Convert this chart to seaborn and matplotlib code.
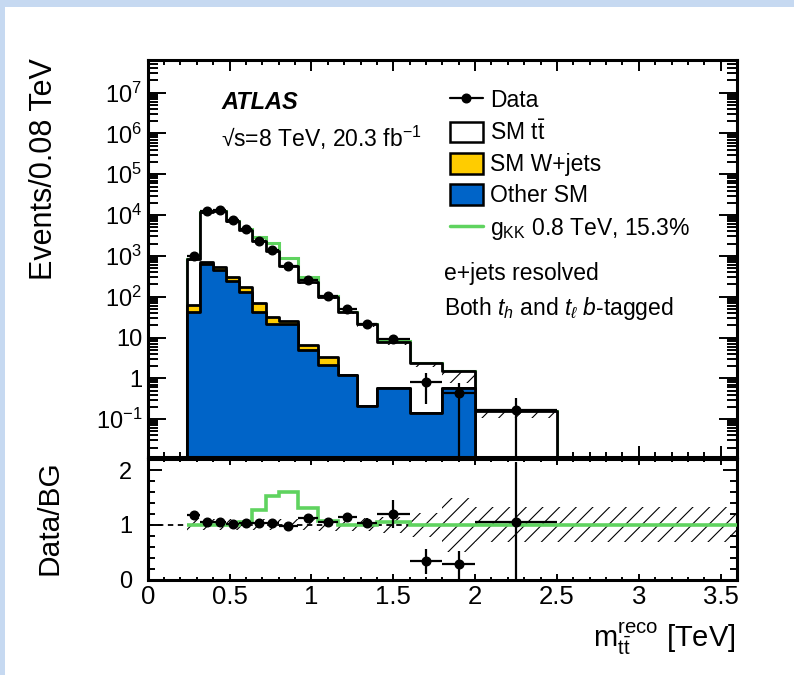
import numpy as np
import pandas as pd
import matplotlib
matplotlib.use("Agg")
import matplotlib.pyplot as plt
import seaborn as sns
from matplotlib.lines import Line2D
from matplotlib.patches import Patch, Rectangle
from matplotlib.ticker import MultipleLocator, LogLocator, FuncFormatter, NullFormatter, FixedLocator

sns.set_theme(style="ticks")
plt.rcParams["font.family"] = ["Liberation Sans", "DejaVu Sans"]
plt.rcParams.update({
    "mathtext.fontset": "custom",
    "mathtext.rm": "Liberation Sans",
    "mathtext.it": "Liberation Sans:italic",
    "mathtext.bf": "Liberation Sans:bold",
    "hatch.linewidth": 0.8,
    "axes.edgecolor": "black",
    "xtick.color": "black",
    "ytick.color": "black",
    "text.color": "black",
})

# m_tt bin edges [TeV]; contents are events per 0.08 TeV
bin_edges = [0.24, 0.32, 0.40, 0.48, 0.56, 0.64, 0.72, 0.80, 0.92, 1.04,
             1.16, 1.28, 1.40, 1.60, 1.80, 2.00, 2.50]
ttbar = [787, 11280, 11955, 6990, 4124, 2229, 1299, 539, 227.5, 96.6,
         41.8, 20.8, 7.23, 2.26, 0.97, 0.155]
wjets = [20, 90, 95, 63, 43, 28, 9, 5, 1.6, 1.3, 0, 0, 0, 0, 0, 0]
other_sm = [43, 630, 450, 247, 133, 43, 22, 21, 4.9, 2.1, 1.2, 0.21, 0.57,
            0.144, 0.57, 0.0]
gkk_signal = [0, 0, 0, 0, 200, 644, 692, 345, 73, 7, 0, 0, 0.47, 0, 0, 0]
data = [1000, 12700, 13250, 7370, 4470, 2370, 1380, 554, 264, 106, 49.5,
        21.8, 9.4, 0.82, 0.43, 0.164]
data_err_up = [15, 60, 60, 45, 40, 30, 25, 15, 9, 5, 2.3, 1.9, 2.0, 0.52, 0.36, 0.17]
data_err_dn = [15, 60, 60, 45, 40, 30, 25, 15, 9, 5, 2.3, 1.9, 2.0, 0.585, 0.43, 0.164]
bkg_rel_unc = [0.12, 0.10, 0.10, 0.10, 0.10, 0.10, 0.10, 0.10, 0.10, 0.11,
               0.12, 0.12, 0.15, 0.22, 0.50, 0.32]
# ratio panel continues past the last populated bin up to the axis end
ratio_tail_edge = 3.6
ratio_tail_unc = 0.32

edges = np.array(bin_edges)
centers = 0.5 * (edges[:-1] + edges[1:])
halfw = 0.5 * np.diff(edges)
tt = np.array(ttbar)
wj = np.array(wjets)
oth = np.array(other_sm)
sig = np.array(gkk_signal)
dat = np.array(data)
eup = np.array(data_err_up)
edn = np.array(data_err_dn)
rel = np.array(bkg_rel_unc)

bkg = tt + wj + oth
df = pd.DataFrame({"mtt": centers, "total": bkg, "w_other": wj + oth, "other": oth})

BLUE = "#0064c8"
YELLOW = "#ffcc00"
GREEN = "#5fd35f"

W, H = 794, 675
def fx(px):
    return px / W
def fy(py):
    return 1 - py / H

fig = plt.figure(figsize=(W / 100, H / 100), dpi=100)
fig.patch.set_facecolor("white")
border = "#c6d9f1"
fig.add_artist(Rectangle((0, fy(7)), 1, 1 - fy(7), transform=fig.transFigure,
                         facecolor=border, edgecolor="none", zorder=-5))
fig.add_artist(Rectangle((0, 0), fx(5), 1, transform=fig.transFigure,
                         facecolor=border, edgecolor="none", zorder=-5))

L, R = 147.7, 737
ax = fig.add_axes([fx(L), fy(456.7), fx(R) - fx(L), fy(60) - fy(456.7)])
rax = fig.add_axes([fx(L), fy(579.5), fx(R) - fx(L), fy(459.3) - fy(579.5)], sharex=ax)

# ---- main panel ----
ax.set_yscale("log")
ax.stairs(bkg + sig, edges, color=GREEN, lw=2.2, zorder=1)
for col, fc in [("total", "white"), ("w_other", YELLOW), ("other", BLUE)]:
    sns.histplot(data=df, x="mtt", weights=col, bins=list(bin_edges), element="step",
                 fill=True, color=fc, alpha=1, edgecolor="black", linewidth=2.0,
                 ax=ax, zorder=2)
ax.stairs(bkg, edges, baseline=bkg * (1 - rel), fill=True, facecolor="none",
          edgecolor="black", hatch="//", linewidth=0, zorder=3)
ax.errorbar(centers, dat, xerr=halfw, yerr=[edn, eup], fmt="o", color="black",
            ms=6.2, lw=1.6, capsize=0, zorder=5)

ax.set_xlim(0, 3.6)
ax.set_ylim(10 ** -1.92, 10 ** 7.8)
ax.set_xlabel("")
ax.set_ylabel("")

def log_label(v, pos):
    e = int(round(np.log10(v)))
    if e == 0:
        return "1"
    if e == 1:
        return "10"
    return r"$\mathregular{10^{%d}}$" % e

ax.yaxis.set_major_locator(FixedLocator([10.0 ** k for k in range(-1, 8)]))
ax.yaxis.set_major_formatter(FuncFormatter(log_label))
ax.yaxis.set_minor_locator(LogLocator(base=10, subs=np.arange(2, 10), numticks=30))
ax.yaxis.set_minor_formatter(NullFormatter())
ax.xaxis.set_major_locator(MultipleLocator(0.5))
ax.xaxis.set_minor_locator(MultipleLocator(0.1))
ax.tick_params(axis="both", which="both", direction="in", top=True, right=True,
               width=1.4, labelbottom=False)
ax.tick_params(axis="x", which="major", length=8)
ax.tick_params(axis="x", which="minor", length=3.5)
ax.tick_params(axis="y", which="major", length=13, labelsize=17, pad=4)
ax.tick_params(axis="y", which="minor", length=7)
for s in ax.spines.values():
    s.set_linewidth(2.2)

handles = [
    Line2D([], [], color="black", marker="o", ms=6.2, lw=1.6),
    Patch(facecolor="white", edgecolor="black", linewidth=1.8),
    Patch(facecolor=YELLOW, edgecolor="black", linewidth=1.8),
    Patch(facecolor=BLUE, edgecolor="black", linewidth=1.8),
    Line2D([], [], color=GREEN, lw=2.5),
]
labels = ["Data", r"SM $\mathrm{t\bar{t}}$", "SM W+jets", "Other SM",
          r"$\mathrm{g_{KK}}$ 0.8 TeV, 15.3%"]
ax.legend(handles, labels, loc="upper left", bbox_to_anchor=(fx(450), fy(89)),
          bbox_transform=fig.transFigure, frameon=False, fontsize=16.5,
          borderpad=0, borderaxespad=0, handlelength=1.42, handleheight=1.0,
          handletextpad=0.32, labelspacing=0.36)

fig.text(fx(221), fy(102.3), "ATLAS", fontsize=17, fontweight="bold",
         fontstyle="italic", va="center", ha="left")
fig.text(fx(221), fy(138.3), r"√s=8 TeV, 20.3 fb$^{\mathregular{-1}}$", fontsize=16.5,
         va="center", ha="left")
fig.text(fx(444), fy(273.3), "e+jets resolved", fontsize=16.5, va="center", ha="left")
fig.text(fx(444), fy(308.3), r"Both $t_h$ and $t_\ell$ $b$-tagged", fontsize=16.5,
         va="center", ha="left")
fig.text(fx(44), fy(58), "Events/0.08 TeV", fontsize=22, rotation=90,
         ha="center", va="top")

# ---- ratio panel ----
redges = np.append(edges, ratio_tail_edge)
rrel = np.append(rel, ratio_tail_unc)
rax.axhline(1.0, color="black", lw=1.3, ls=(0, (3, 2.5)), zorder=1)
rax.stairs(1 + rrel, redges, baseline=1 - rrel, fill=True, facecolor="none",
           edgecolor="black", hatch="//", linewidth=0, zorder=2)
rsig = np.append((bkg + sig) / bkg, 1.0)
rax.stairs(rsig, redges, baseline=None, color=GREEN, lw=2.6, zorder=3)
rax.errorbar(centers, dat / bkg, xerr=halfw, yerr=[edn / bkg, eup / bkg], fmt="o",
             color="black", ms=6.2, lw=1.6, capsize=0, zorder=5)
rax.set_ylim(0, 2.2)
rax.set_xlim(0, 3.6)
rax.yaxis.set_major_locator(FixedLocator([0, 1, 2]))
rax.yaxis.set_minor_locator(MultipleLocator(0.2))
rax.xaxis.set_major_locator(MultipleLocator(0.5))
rax.xaxis.set_minor_locator(MultipleLocator(0.1))
rax.xaxis.set_major_formatter(FuncFormatter(lambda v, p: "0" if abs(v) < 1e-9 else ("%g" % v)))
rax.tick_params(axis="both", which="both", direction="in", top=True, right=True, width=1.4)
rax.tick_params(axis="x", which="major", length=4.5, labelsize=18.5, pad=4)
rax.tick_params(axis="x", which="minor", length=2.2)
rax.tick_params(axis="y", which="major", length=10, labelsize=17, pad=11)
rax.tick_params(axis="y", which="minor", length=5)
for s in rax.spines.values():
    s.set_linewidth(2.2)
rax.set_xlabel("")
rax.set_ylabel("")

fig.text(fx(50), fy(517.5), "Data/BG", fontsize=21.5, rotation=90,
         ha="center", va="center")
fig.text(fx(736), fy(646.7), r"$\mathrm{m_{t\bar{t}}^{reco}}$ [TeV]", fontsize=21,
         ha="right", va="baseline")

fig.savefig("out.png", dpi=100, facecolor=fig.get_facecolor())
